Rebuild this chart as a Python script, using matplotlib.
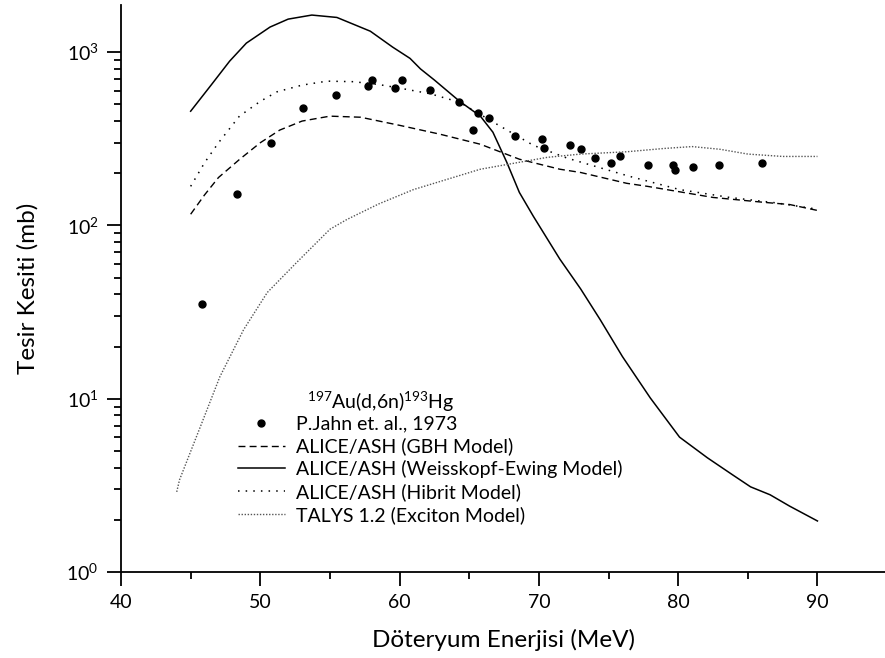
import matplotlib
matplotlib.use("Agg")
import matplotlib.pyplot as plt
from matplotlib.ticker import LogLocator, MultipleLocator, NullFormatter

plt.rcParams['font.family'] = ['Lato', 'DejaVu Sans']
plt.rcParams['mathtext.default'] = 'regular'

# Experimental data: P.Jahn et al., 1973
exp_E = [45.8, 48.3, 50.8, 53.1, 55.4, 57.7, 58.0, 59.7, 60.2, 62.2, 64.3, 65.3,
         65.6, 66.4, 68.3, 70.2, 70.4, 72.2, 73.0, 74.0, 75.2, 75.8, 77.8, 79.6,
         79.8, 81.1, 82.9, 86.0]
exp_sigma = [35, 151, 298, 475, 564, 636, 689, 619, 689, 603, 514, 354,
             444, 415, 327, 314, 279, 290, 275, 244, 228, 250, 222, 222,
             208, 216, 222, 228]

# ALICE/ASH (GBH Model)
gbh_E = [45, 46, 47, 48.5, 50, 51.4, 53, 55, 57.2, 60, 62.9, 65.8, 68.6, 71.5,
         73, 76.3, 77.8, 82.5, 86.1, 88, 90]
gbh_sigma = [116, 150, 189, 240, 300, 355, 400, 427, 421, 378, 336, 294, 241, 211,
             202, 175, 168, 145, 136, 132, 122]

# ALICE/ASH (Weisskopf-Ewing Model)
we_E = [45, 46.5, 47.8, 49, 50.7, 52, 53.7, 55.5, 57.9, 59.5, 60.75, 61.5, 62.5,
        64.3, 65.8, 66.7, 67.7, 68.6, 69.6, 71.5, 73, 74.4, 76, 78, 80.1, 82.1,
        83.9, 85.2, 86.6, 88, 90]
we_sigma = [456, 650, 887, 1127, 1395, 1550, 1636, 1585, 1320, 1069, 920, 800, 690,
            521, 427, 345, 231, 155, 113, 64, 43, 28.6, 17.5, 10.1, 6.0, 4.56,
            3.64, 3.10, 2.79, 2.4, 1.97]

# ALICE/ASH (Hibrit Model)
hib_E = [45, 46, 47, 48.5, 50, 51.2, 53, 54.8, 56.7, 58.5, 60, 62.2, 64.3, 67.0,
         69.6, 72.0, 73, 76.5, 80.1, 83.7, 87, 90]
hib_sigma = [168, 230, 300, 427, 520, 590, 645, 680, 675, 650, 620, 575, 514, 383,
             290, 245, 232, 192, 161, 145, 135, 124]

# TALYS 1.2 (Exciton Model)
tal_E = [44, 44.2, 45.7, 47.1, 48.8, 50.5, 52.6, 55.0, 56.2, 58.5, 61.0, 65.8,
         70.6, 73.0, 76.3, 79, 81, 83, 85, 87.5, 90]
tal_sigma = [2.9, 3.4, 6.9, 13.4, 25, 41, 61, 95, 108, 133, 161, 211,
             247, 258, 266, 278, 285, 275, 258, 250, 250]

legend_title = r'$^{197}$Au(d,6n)$^{193}$Hg'

fig = plt.figure(figsize=(8.85, 6.58), dpi=100)
ax = fig.add_axes([121 / 885, 86 / 658, 764 / 885, 567 / 658])

ax.plot(exp_E, exp_sigma, 'o', color='black', markersize=5,
        label='P.Jahn et. al., 1973')
ax.plot(gbh_E, gbh_sigma, color='black', linewidth=1.0, linestyle=(0, (5, 3)),
        label='ALICE/ASH (GBH Model)')
ax.plot(we_E, we_sigma, color='black', linewidth=1.1, linestyle='-',
        label='ALICE/ASH (Weisskopf-Ewing Model)')
ax.plot(hib_E, hib_sigma, color='black', linewidth=1.1, linestyle=(0, (1, 4)),
        label='ALICE/ASH (Hibrit Model)')
ax.plot(tal_E, tal_sigma, color='#555555', linewidth=1.0, linestyle=(0, (1, 1.2)),
        label='TALYS 1.2 (Exciton Model)')

ax.set_yscale('log')
ax.set_xlim(40, 94.85)
ax.set_ylim(1, 1870)

ax.xaxis.set_major_locator(MultipleLocator(10))
ax.xaxis.set_minor_locator(MultipleLocator(5))
ax.yaxis.set_major_locator(LogLocator(base=10, numticks=10))
ax.yaxis.set_minor_locator(LogLocator(base=10, subs=range(2, 10), numticks=20))
ax.yaxis.set_minor_formatter(NullFormatter())

for s in ['top', 'right']:
    ax.spines[s].set_visible(False)
for s in ['left', 'bottom']:
    ax.spines[s].set_linewidth(1.3)

ax.tick_params(which='major', direction='out', length=10, width=1.3, labelsize=14, pad=6)
ax.tick_params(which='minor', direction='out', length=5, width=1.3)

ax.set_xlabel('Döteryum Enerjisi (MeV)', fontsize=17.5, labelpad=13)
ax.set_ylabel('Tesir Kesiti (mb)', fontsize=17.5, labelpad=20)

leg = ax.legend(loc='lower left', bbox_to_anchor=(0.153, 0.085), frameon=False,
                fontsize=14, handlelength=2.4, handletextpad=0.6, labelspacing=0.25,
                borderpad=0, borderaxespad=0, markerscale=1.0)
ax.text(0.34, 0.30, legend_title, transform=ax.transAxes, ha='center', va='center',
        fontsize=14)

fig.savefig('out.png', dpi=100)
